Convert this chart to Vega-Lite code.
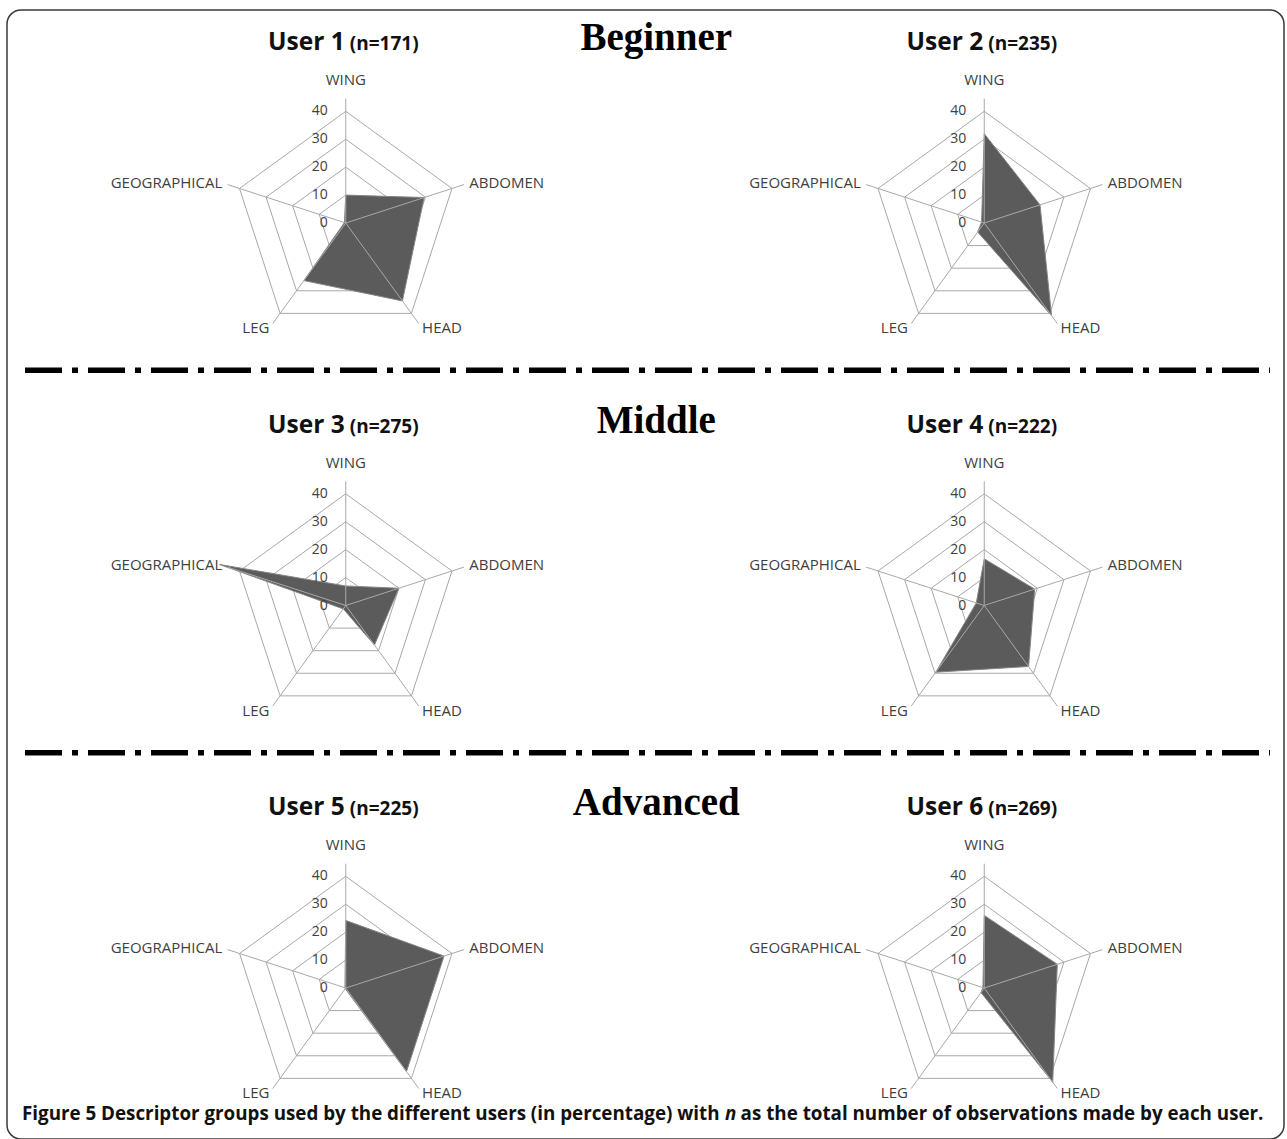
{
  "$schema": "https://vega.github.io/schema/vega-lite/v6.json",
  "width": 1277,
  "height": 1129,
  "autosize": {"type": "none"},
  "padding": {"left": 7, "top": 10, "right": 3, "bottom": 0},
  "background": "white",
  "config": {"view": {"stroke": "#3a3a3a", "strokeWidth": 1.5, "cornerRadius": 14}},
  "datasets": {
    "radar": [
      {"user": "User 1", "n": 171, "group": "Beginner", "slot": "first", "axis": "WING", "idx": 0, "value": 10},
      {"user": "User 1", "n": 171, "group": "Beginner", "slot": "first", "axis": "ABDOMEN", "idx": 1, "value": 29.5},
      {"user": "User 1", "n": 171, "group": "Beginner", "slot": "first", "axis": "HEAD", "idx": 2, "value": 34.5},
      {"user": "User 1", "n": 171, "group": "Beginner", "slot": "first", "axis": "LEG", "idx": 3, "value": 25.5},
      {"user": "User 1", "n": 171, "group": "Beginner", "slot": "first", "axis": "GEOGRAPHICAL", "idx": 4, "value": 0.5},
      {"user": "User 2", "n": 235, "group": "Beginner", "slot": "second", "axis": "WING", "idx": 0, "value": 32},
      {"user": "User 2", "n": 235, "group": "Beginner", "slot": "second", "axis": "ABDOMEN", "idx": 1, "value": 21},
      {"user": "User 2", "n": 235, "group": "Beginner", "slot": "second", "axis": "HEAD", "idx": 2, "value": 41},
      {"user": "User 2", "n": 235, "group": "Beginner", "slot": "second", "axis": "LEG", "idx": 3, "value": 4},
      {"user": "User 2", "n": 235, "group": "Beginner", "slot": "second", "axis": "GEOGRAPHICAL", "idx": 4, "value": 1},
      {"user": "User 3", "n": 275, "group": "Middle", "slot": "first", "axis": "WING", "idx": 0, "value": 7},
      {"user": "User 3", "n": 275, "group": "Middle", "slot": "first", "axis": "ABDOMEN", "idx": 1, "value": 20},
      {"user": "User 3", "n": 275, "group": "Middle", "slot": "first", "axis": "HEAD", "idx": 2, "value": 17.5},
      {"user": "User 3", "n": 275, "group": "Middle", "slot": "first", "axis": "LEG", "idx": 3, "value": 1.5},
      {"user": "User 3", "n": 275, "group": "Middle", "slot": "first", "axis": "GEOGRAPHICAL", "idx": 4, "value": 47.5},
      {"user": "User 4", "n": 222, "group": "Middle", "slot": "second", "axis": "WING", "idx": 0, "value": 16.7},
      {"user": "User 4", "n": 222, "group": "Middle", "slot": "second", "axis": "ABDOMEN", "idx": 1, "value": 19},
      {"user": "User 4", "n": 222, "group": "Middle", "slot": "second", "axis": "HEAD", "idx": 2, "value": 27},
      {"user": "User 4", "n": 222, "group": "Middle", "slot": "second", "axis": "LEG", "idx": 3, "value": 29.5},
      {"user": "User 4", "n": 222, "group": "Middle", "slot": "second", "axis": "GEOGRAPHICAL", "idx": 4, "value": 3},
      {"user": "User 5", "n": 225, "group": "Advanced", "slot": "first", "axis": "WING", "idx": 0, "value": 24.2},
      {"user": "User 5", "n": 225, "group": "Advanced", "slot": "first", "axis": "ABDOMEN", "idx": 1, "value": 37},
      {"user": "User 5", "n": 225, "group": "Advanced", "slot": "first", "axis": "HEAD", "idx": 2, "value": 37},
      {"user": "User 5", "n": 225, "group": "Advanced", "slot": "first", "axis": "LEG", "idx": 3, "value": 0.3},
      {"user": "User 5", "n": 225, "group": "Advanced", "slot": "first", "axis": "GEOGRAPHICAL", "idx": 4, "value": 0.3},
      {"user": "User 6", "n": 269, "group": "Advanced", "slot": "second", "axis": "WING", "idx": 0, "value": 26},
      {"user": "User 6", "n": 269, "group": "Advanced", "slot": "second", "axis": "ABDOMEN", "idx": 1, "value": 27.5},
      {"user": "User 6", "n": 269, "group": "Advanced", "slot": "second", "axis": "HEAD", "idx": 2, "value": 41.7},
      {"user": "User 6", "n": 269, "group": "Advanced", "slot": "second", "axis": "LEG", "idx": 3, "value": 2},
      {"user": "User 6", "n": 269, "group": "Advanced", "slot": "second", "axis": "GEOGRAPHICAL", "idx": 4, "value": 0.5}
    ]
  },
  "layer": [
    {
      "data": {"name": "radar"},
      "encoding": {
        "x": {"field": "slot", "type": "nominal", "scale": {"type": "band", "domain": ["first", "second"], "paddingInner": 0, "paddingOuter": 0}, "axis": null},
        "y": {"field": "group", "type": "nominal", "scale": {"type": "band", "domain": ["Beginner", "Middle", "Advanced"], "range": [0, 1147.5], "paddingInner": 0, "paddingOuter": 0}, "axis": null},
        "xOffset": {"field": "ox", "type": "quantitative", "scale": {"domain": [-121.31, 107.34], "nice": false, "zero": false}},
        "yOffset": {"field": "oy", "type": "quantitative", "scale": {"domain": [-76.28, 60.70], "nice": false, "zero": false}}
      },
      "layer": [
        {
          "transform": [
            {"calculate": "[10, 20, 30, 40]", "as": "lv"},
            {"flatten": ["lv"]},
            {"calculate": "datum.lv * sin(datum.idx * 2 * PI / 5)", "as": "ox"},
            {"calculate": "-datum.lv * cos(datum.idx * 2 * PI / 5)", "as": "oy"}
          ],
          "mark": {"type": "line", "interpolate": "linear-closed", "stroke": "#a8a8a8", "strokeWidth": 1},
          "encoding": {
            "detail": [{"field": "user", "type": "nominal"}, {"field": "lv", "type": "nominal"}],
            "order": {"field": "idx", "type": "quantitative"}
          }
        },
        {
          "transform": [
            {"calculate": "datum.value * sin(datum.idx * 2 * PI / 5)", "as": "ox"},
            {"calculate": "-datum.value * cos(datum.idx * 2 * PI / 5)", "as": "oy"}
          ],
          "mark": {"type": "line", "interpolate": "linear-closed", "fill": "#5b5b5b", "stroke": "#858585", "strokeWidth": 1},
          "encoding": {
            "detail": {"field": "user", "type": "nominal"},
            "order": {"field": "idx", "type": "quantitative"}
          }
        },
        {
          "transform": [
            {"calculate": "[0, 44.5]", "as": "rr"},
            {"flatten": ["rr"]},
            {"calculate": "datum.rr * sin(datum.idx * 2 * PI / 5)", "as": "ox"},
            {"calculate": "-datum.rr * cos(datum.idx * 2 * PI / 5)", "as": "oy"}
          ],
          "mark": {"type": "line", "stroke": "#a8a8a8", "strokeWidth": 1},
          "encoding": {
            "detail": [{"field": "user", "type": "nominal"}, {"field": "idx", "type": "nominal"}],
            "order": {"field": "rr", "type": "quantitative"}
          }
        },
        {
          "transform": [
            {"filter": "datum.idx == 0"},
            {"calculate": "[0, 10, 20, 30, 40]", "as": "lv"},
            {"flatten": ["lv"]},
            {"calculate": "-6.4", "as": "ox"},
            {"calculate": "-datum.lv", "as": "oy"}
          ],
          "mark": {"type": "text", "align": "right", "baseline": "middle", "font": "Open Sans", "fontSize": 14, "fill": "#404040"},
          "encoding": {"text": {"field": "lv", "type": "quantitative"}}
        },
        {
          "transform": [
            {"filter": "datum.idx == 1 || datum.idx == 2"},
            {"calculate": "46.5 * sin(datum.idx * 2 * PI / 5)", "as": "ox"},
            {"calculate": "-46.5 * cos(datum.idx * 2 * PI / 5)", "as": "oy"}
          ],
          "mark": {"type": "text", "align": "left", "baseline": "middle", "font": "Open Sans", "fontSize": 15, "fill": "#404040"},
          "encoding": {"text": {"field": "axis", "type": "nominal"}}
        },
        {
          "transform": [
            {"filter": "datum.idx == 3 || datum.idx == 4"},
            {"calculate": "46.5 * sin(datum.idx * 2 * PI / 5)", "as": "ox"},
            {"calculate": "-46.5 * cos(datum.idx * 2 * PI / 5)", "as": "oy"}
          ],
          "mark": {"type": "text", "align": "right", "baseline": "middle", "font": "Open Sans", "fontSize": 15, "fill": "#404040"},
          "encoding": {"text": {"field": "axis", "type": "nominal"}}
        },
        {
          "transform": [
            {"filter": "datum.idx == 0"},
            {"calculate": "0", "as": "ox"},
            {"calculate": "-51.2", "as": "oy"}
          ],
          "mark": {"type": "text", "align": "center", "baseline": "middle", "font": "Open Sans", "fontSize": 15, "fill": "#404040"},
          "encoding": {"text": {"field": "axis", "type": "nominal"}}
        },
        {
          "transform": [
            {"filter": "datum.idx == 0"},
            {"calculate": "-0.36", "as": "ox"},
            {"calculate": "-61.8", "as": "oy"}
          ],
          "mark": {"type": "text", "align": "right", "baseline": "alphabetic", "font": "Open Sans", "fontWeight": "bold", "fontSize": 24.5, "fill": "#111111"},
          "encoding": {"text": {"field": "user", "type": "nominal"}}
        },
        {
          "transform": [
            {"filter": "datum.idx == 0"},
            {"calculate": "'(n=' + datum.n + ')'", "as": "ntext"},
            {"calculate": "1.43", "as": "ox"},
            {"calculate": "-61.8", "as": "oy"}
          ],
          "mark": {"type": "text", "align": "left", "baseline": "alphabetic", "font": "Open Sans", "fontWeight": "bold", "fontSize": 19, "fill": "#111111"},
          "encoding": {"text": {"field": "ntext", "type": "nominal"}}
        },
        {
          "transform": [
            {"filter": "datum.idx == 0 && datum.slot == 'first'"},
            {"calculate": "111.2", "as": "ox"},
            {"calculate": "-61.9", "as": "oy"}
          ],
          "mark": {"type": "text", "align": "center", "baseline": "alphabetic", "font": "Liberation Serif", "fontWeight": "bold", "fontSize": 39, "fill": "#000000"},
          "encoding": {"text": {"field": "group", "type": "nominal"}}
        },
        {
          "transform": [
            {"filter": "datum.idx == 0 && datum.user == 'User 5'"},
            {"calculate": "-115.94", "as": "ox"},
            {"calculate": "47.3", "as": "oy"}
          ],
          "mark": {"type": "text", "align": "left", "baseline": "alphabetic", "font": "Open Sans", "fontWeight": "bold", "fontSize": 18.8, "fill": "#111111"},
          "encoding": {"text": {"value": "Figure 5 Descriptor groups used by the different users (in percentage) with"}}
        },
        {
          "transform": [
            {"filter": "datum.idx == 0 && datum.user == 'User 5'"},
            {"calculate": "135.8", "as": "ox"},
            {"calculate": "47.3", "as": "oy"}
          ],
          "mark": {"type": "text", "align": "left", "baseline": "alphabetic", "font": "Open Sans", "fontWeight": "bold", "fontStyle": "italic", "fontSize": 18.8, "fill": "#111111"},
          "encoding": {"text": {"value": "n"}}
        },
        {
          "transform": [
            {"filter": "datum.idx == 0 && datum.user == 'User 5'"},
            {"calculate": "141.4", "as": "ox"},
            {"calculate": "47.3", "as": "oy"}
          ],
          "mark": {"type": "text", "align": "left", "baseline": "alphabetic", "font": "Open Sans", "fontWeight": "bold", "fontSize": 18.8, "fill": "#111111"},
          "encoding": {"text": {"value": "as the total number of observations made by each user."}}
        }
      ]
    },
    {
      "data": {"name": "radar"},
      "transform": [{"filter": "datum.idx == 0 && datum.slot == 'first' && datum.group != 'Advanced'"}],
      "mark": {"type": "rule", "stroke": "#000000", "strokeWidth": 5.5, "strokeDash": [37, 10, 6, 10], "strokeCap": "butt"},
      "encoding": {
        "x": {"datum": 0.0141, "type": "quantitative", "scale": {"domain": [0, 1], "nice": false, "zero": false}, "axis": null},
        "x2": {"datum": 0.989},
        "y": {"field": "group", "type": "nominal", "scale": {"type": "band", "domain": ["Beginner", "Middle", "Advanced"], "range": [0, 1147.5], "paddingInner": 0, "paddingOuter": 0}, "axis": null},
        "yOffset": {"datum": 52.75, "type": "quantitative", "scale": {"domain": [-76.28, 60.70], "nice": false, "zero": false}}
      }
    }
  ],
  "resolve": {"scale": {"x": "independent"}}
}
